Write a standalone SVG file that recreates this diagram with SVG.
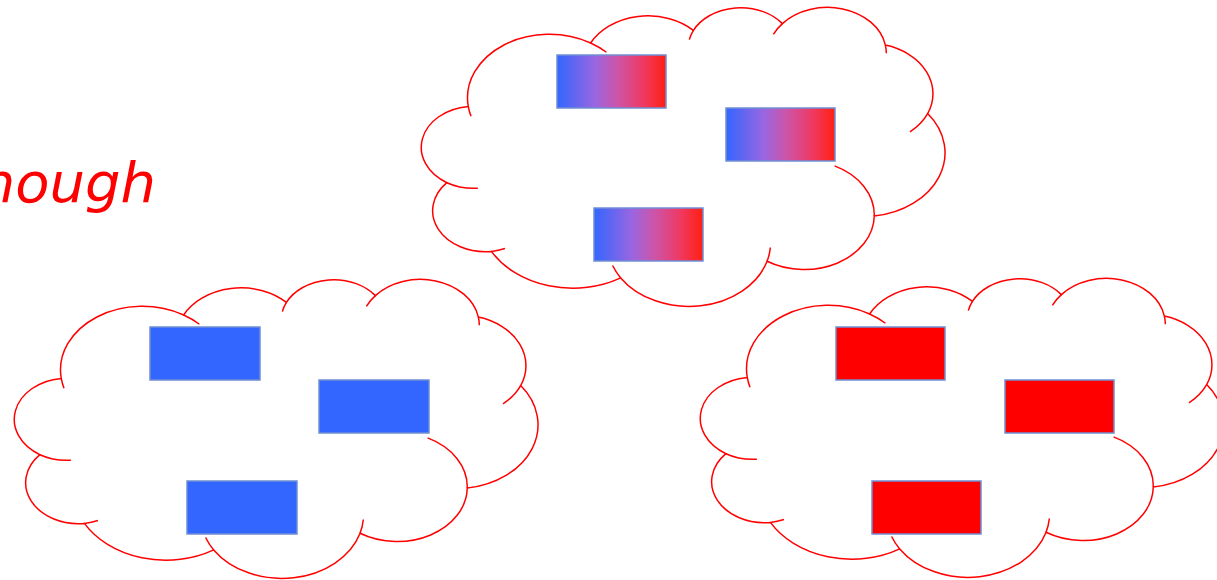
<svg xmlns="http://www.w3.org/2000/svg" xmlns:xlink="http://www.w3.org/1999/xlink" width="1217" height="580" viewBox="0 0 1217 580">
  <style>
    .cloud { fill: #FFFFFF; stroke: #FF0000; stroke-width: 1.5; }
    .inner { fill: none; stroke: #FF0000; stroke-width: 1.5; }
    .box { stroke: #6F8FD3; stroke-width: 1.5; }
    .blue { fill: #3366FF; }
    .red { fill: #FF0000; }
    .mix { fill: url(#mixGrad); }
    .label { font-family: "DejaVu Sans", "Liberation Sans", sans-serif; font-style: italic; font-size: 56px; fill: #FF0000; }
  </style>
  <defs>
    <linearGradient id="mixGrad" x1="0" y1="0" x2="1" y2="0">
      <stop offset="0" stop-color="#3366FF"/>
      <stop offset="0.35" stop-color="#9A66E0"/>
      <stop offset="0.55" stop-color="#CC55AA"/>
      <stop offset="0.8" stop-color="#F03860"/>
      <stop offset="1" stop-color="#FF2010"/>
    </linearGradient>
    <g id="cloudShape">
      <path class="cloud" d="M47.26,99.46 A81.83,63.61 0 0 1 169.65,35.96 A64.63,50.30 0 0 1 272.41,23.39 A52.90,41.15 0 0 1 361.42,16.61 A58.86,45.65 0 0 1 464.37,38.07 A64.63,50.34 0 0 1 506.66,106.59 A82.10,63.81 0 0 1 453.28,209.04 A70.10,54.45 0 0 1 346.07,254.29 A81.82,63.78 0 0 1 199.71,270.90 A93.55,72.97 0 0 1 70.43,244.41 A52.84,40.96 0 0 1 25.93,175.70 A52.65,41.15 0 0 1 47.26,99.46 Z"/>
      <path class="inner" d="M56.87,181.18 A52.65,41.15 0 0 1 25.93,175.70 M83.95,241.55 A52.84,40.96 0 0 1 70.43,244.41 M199.71,270.90 A81.82,63.78 0 0 1 191.59,258.51 M349.33,240.52 A81.82,63.78 0 0 1 346.07,254.29 M413.58,158.87 A70.10,54.45 0 0 1 453.28,209.04 M506.66,106.59 A64.63,50.34 0 0 1 488.97,124.79 M464.37,38.07 A58.86,45.65 0 0 1 465.34,46.30 M352.37,27.35 A58.86,45.65 0 0 1 361.42,16.61 M268.31,32.67 A52.90,41.15 0 0 1 272.41,23.39 M169.65,35.96 A81.83,63.61 0 0 1 185.41,45.27 M50.01,109.28 A81.83,63.61 0 0 1 47.26,99.46"/>
    </g>
  </defs>

  <g id="label-text">
    <text class="label" x="156" y="202" text-anchor="end">nough</text>
  </g>

  <g id="cloud-top">
    <use xlink:href="#cloudShape" transform="translate(421,7)"/>
    <rect id="top-box-1" class="box mix" x="557" y="55" width="109" height="53"/>
    <rect id="top-box-2" class="box mix" x="726" y="108" width="109" height="53"/>
    <rect id="top-box-3" class="box mix" x="594" y="208" width="109" height="53"/>
  </g>

  <g id="cloud-left">
    <use xlink:href="#cloudShape" transform="translate(14,279)"/>
    <rect id="left-box-1" class="box blue" x="150" y="327" width="110" height="53"/>
    <rect id="left-box-2" class="box blue" x="319" y="380" width="110" height="53"/>
    <rect id="left-box-3" class="box blue" x="187" y="481" width="110" height="53"/>
  </g>

  <g id="cloud-right">
    <use xlink:href="#cloudShape" transform="translate(700,278)"/>
    <rect id="right-box-1" class="box red" x="836" y="327" width="109" height="53"/>
    <rect id="right-box-2" class="box red" x="1005" y="380" width="109" height="53"/>
    <rect id="right-box-3" class="box red" x="872" y="481" width="109" height="53"/>
  </g>

  <g id="connectors"/>
</svg>
